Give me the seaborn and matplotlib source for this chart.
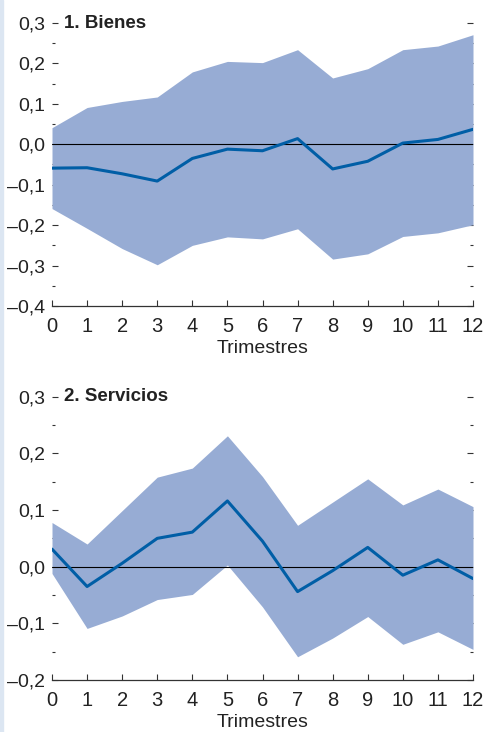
import matplotlib
matplotlib.use("Agg")
import matplotlib.pyplot as plt
import seaborn as sns
import pandas as pd
from matplotlib.ticker import MultipleLocator, FuncFormatter
from matplotlib.patches import Rectangle

quarters = list(range(13))

bienes_mid = [-0.059, -0.058, -0.073, -0.091, -0.035, -0.012, -0.016, 0.014,
              -0.061, -0.042, 0.003, 0.012, 0.037]
bienes_low = [-0.159, -0.208, -0.258, -0.298, -0.250, -0.229, -0.234, -0.209,
              -0.284, -0.271, -0.228, -0.219, -0.199]
bienes_high = [0.041, 0.091, 0.106, 0.117, 0.179, 0.205, 0.202, 0.234,
               0.164, 0.187, 0.234, 0.243, 0.271]

servicios_mid = [0.031, -0.035, 0.006, 0.050, 0.061, 0.116, 0.045, -0.044,
                 -0.007, 0.034, -0.015, 0.012, -0.021]
servicios_low = [-0.012, -0.109, -0.087, -0.058, -0.049, 0.003, -0.071, -0.159,
                 -0.126, -0.088, -0.137, -0.115, -0.146]
servicios_high = [0.078, 0.040, 0.099, 0.158, 0.174, 0.231, 0.159, 0.073,
                  0.114, 0.155, 0.109, 0.137, 0.106]

titles = ["1. Bienes", "2. Servicios"]
ylims = [(-0.4, 0.3), (-0.2, 0.3)]
xlabel = "Trimestres"

sns.set_style("ticks")
plt.rcParams['font.family'] = ['Liberation Sans', 'DejaVu Sans']

FILL = "#97acd4"
LINE = "#005ea6"
TICKC = "#333333"
TXT = "#222222"

fig = plt.figure(figsize=(4.84, 7.32), dpi=100)
fig.patches.append(Rectangle((0, 0), 3 / 484, 1, transform=fig.transFigure,
                             color="#dce6f2", zorder=0))

left = 52 / 484
width = (473 - 52) / 484
ax1 = fig.add_axes([left, 1 - 306 / 732, width, (306 - 23) / 732])
ax2 = fig.add_axes([left, 1 - 680 / 732, width, (680 - 396.7) / 732])

def fmt(v, pos):
    s = f"{abs(v):.1f}".replace(".", ",")
    return ("–" + s) if v < -1e-9 else s

panels = [
    (ax1, bienes_mid, bienes_low, bienes_high),
    (ax2, servicios_mid, servicios_low, servicios_high),
]

for i, (ax, mid, low, high) in enumerate(panels):
    df = pd.DataFrame({"t": quarters, "mid": mid, "low": low, "high": high})
    ax.fill_between(df["t"], df["low"], df["high"], color=FILL, linewidth=0, zorder=1)
    ax.axhline(0, color="black", linewidth=0.8, zorder=2)
    sns.lineplot(data=df, x="t", y="mid", ax=ax, color=LINE, linewidth=2.2, zorder=3)
    ax.set_xlim(0, 12)
    ax.set_ylim(*ylims[i])
    ax.set_xticks(quarters)
    ax.yaxis.set_major_locator(MultipleLocator(0.1))
    ax.yaxis.set_minor_locator(MultipleLocator(0.05))
    ax.yaxis.set_major_formatter(FuncFormatter(fmt))
    for s in ["left", "right", "top"]:
        ax.spines[s].set_visible(False)
    ax.spines["bottom"].set_color(TICKC)
    ax.spines["bottom"].set_linewidth(0.9)
    ax.tick_params(axis="y", which="major", direction="in", length=4.5, width=0.8,
                   color=TICKC, left=True, right=True, labelsize=14, pad=5,
                   labelcolor=TXT)
    ax.tick_params(axis="y", which="minor", direction="in", length=2, width=0.8,
                   color=TICKC, left=True, right=True)
    ax.tick_params(axis="x", which="major", direction="in", length=4.5, width=0.8,
                   color=TICKC, labelsize=14.5, pad=8, labelcolor=TXT)
    ax.set_xlabel(xlabel, fontsize=14, labelpad=3, color=TXT)
    ax.set_ylabel("")
    ax.text(0.34, ylims[i][1], titles[i], transform=ax.transData, fontsize=13.5,
            fontweight="bold", va="center", ha="left", color=TXT)

fig.savefig("out.png", dpi=100)
